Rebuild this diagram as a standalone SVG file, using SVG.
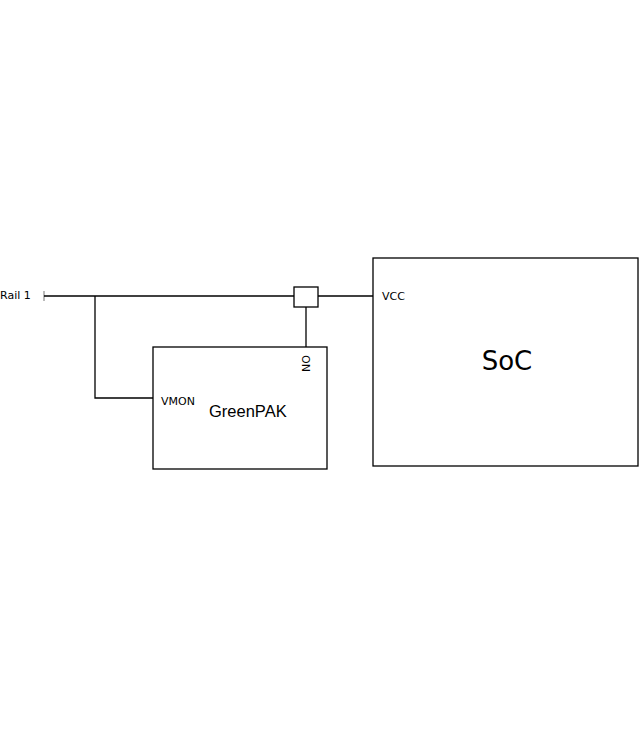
<svg xmlns="http://www.w3.org/2000/svg" width="639" height="729" viewBox="0 0 639 729">
<style>
.box{fill:#fff;stroke:#000;stroke-width:1.3}
.w{fill:none;stroke:#000;stroke-width:1.3}
.lbl{font-family:"DejaVu Sans",sans-serif;font-size:11px;fill:#000}
</style>
<rect width="639" height="729" fill="#fff"/>
<g id="connectors">
<line x1="44" y1="291" x2="44" y2="301" stroke="#777" stroke-width="1"/>
<line class="w" x1="44" y1="296" x2="294" y2="296"/>
<line class="w" x1="318" y1="296" x2="373" y2="296"/>
<line class="w" x1="306" y1="307" x2="306" y2="347"/>
<polyline class="w" points="95,296 95,398 153,398"/>
</g>
<g id="rail1"><text class="lbl" x="0" y="299" font-size="11.5">Rail 1</text></g>
<g id="switch"><rect class="box" x="294" y="287" width="24" height="20"/></g>
<g id="greenpak">
<rect class="box" x="153" y="347" width="174" height="122"/>
<text class="lbl" x="161" y="405">VMON</text>
<text x="209" y="417" font-family="Liberation Sans,Arial,sans-serif" font-size="16.5">GreenPAK</text>
<text class="lbl" transform="translate(302,355) rotate(90)">ON</text>
</g>
<g id="soc">
<rect class="box" x="373" y="258" width="265" height="208"/>
<text class="lbl" x="382" y="300">VCC</text>
<text x="507" y="370" text-anchor="middle" font-family="DejaVu Sans,sans-serif" font-size="26">SoC</text>
</g>
</svg>
